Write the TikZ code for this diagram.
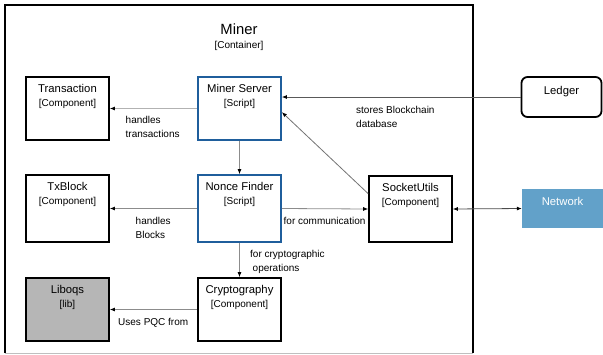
\documentclass[tikz,border=0pt]{standalone}
\usepackage{fontspec}
\setmainfont{Liberation Sans}
\usetikzlibrary{positioning,arrows.meta}
\definecolor{scriptblue}{HTML}{1F5E9C}
\definecolor{netblue}{HTML}{62A1C9}
\definecolor{libgray}{HTML}{B6B6B6}
\tikzset{
  comp/.style={draw=black, line width=1.8pt, minimum width=83pt, minimum height=63pt, inner sep=0pt},
  script/.style={comp, draw=scriptblue},
  boxtext/.style={align=center, inner sep=0pt, font=\fontsize{10}{14}\selectfont},
  note/.style={align=left, anchor=north west, inner sep=0pt, font=\fontsize{10}{14}\selectfont},
  conn/.style={draw=black!45, line width=0.8pt, -{Latex[black,length=5pt,width=4pt]}}
}
\newcommand{\ttl}[1]{{\fontsize{11.3}{14}\selectfont #1}}

\begin{document}
\begin{tikzpicture}[x=1pt,y=-1pt]
  \useasboundingbox (0,0) rectangle (603,354);
  % container
  \node[minimum width=468pt, minimum height=348pt, inner sep=0pt] (miner) at (239,179) {};
  \draw[line width=1.5pt] (miner.south west) -- (miner.north west) -- (miner.north east) -- (miner.south east);
  \draw[black!25, line width=1pt] (miner.south west) -- (miner.south east);
  \node[boxtext, below=18.5pt of miner.north] (minerT) {{\fontsize{14.8}{14}\selectfont Miner}\\{[Container]}};

  % boxes
  \node[comp]   (trans)   at ( 67.5,108.5) {};
  \node[script] (server)  at (239.5,108.5) {};
  \node[comp, minimum height=67pt]   (txblock) at ( 67.5,208.5) {};
  \node[script, minimum height=67pt] (nonce)   at (239.5,208.5) {};
  \node[comp, minimum height=66pt]   (socket)  at (410.5,209) {};
  \node[comp, fill=libgray] (liboqs)  at ( 67.5,309.5) {};
  \node[comp]   (crypto)  at (239.5,309.5) {};
  \node[draw, line width=1.8pt, rounded corners=6pt, minimum width=80pt, minimum height=40pt, inner sep=0pt] (ledger) at (561.5,97) {};
  \node[fill=netblue, minimum width=81pt, minimum height=39pt, inner sep=0pt] (network) at (562.5,208.5) {};

  % box texts
  \node[boxtext, below=8pt of trans.north]   (transT)   {\ttl{Transaction}\\{[Component]}};
  \node[boxtext, below=8pt of server.north]  (serverT)  {\ttl{Miner Server}\\{[Script]}};
  \node[boxtext, below=8pt of txblock.north] (txblockT) {\ttl{TxBlock}\\{[Component]}};
  \node[boxtext, below=8pt of nonce.north]   (nonceT)   {\ttl{Nonce Finder}\\{[Script]}};
  \node[boxtext, below=8pt of socket.north]  (socketT)  {\ttl{SocketUtils}\\{[Component]}};
  \node[boxtext, below=8pt of liboqs.north]  (liboqsT)  {\ttl{Liboqs}\\{[lib]}};
  \node[boxtext, below=8pt of crypto.north]  (cryptoT)  {\ttl{Cryptography}\\{[Component]}};
  \node[boxtext, below=10.5pt of ledger.north] (ledgerT) {\ttl{Ledger}};
  \node[boxtext, text=white, below=8pt of network.north] (networkT) {\ttl{Network}};

  % connectors
  \draw[conn, draw=black!30] (server.west) -- (trans.east);
  \draw[conn] (server.south) -- (nonce.north);
  \draw[conn, draw=black!65] (ledger.west) -- (server.east |- ledger.west);
  \draw[conn, draw=black!55] (socket.160) -- (server.-5);
  \draw[conn] (nonce.west) -- (txblock.east);
  \draw[conn] (nonce.east) -- (socket.west);
  \draw[conn, draw=black!70, {Latex[black,length=5pt,width=4pt]}-{Latex[black,length=5pt,width=4pt]}] (socket.east) -- (network.west);
  \draw[conn] (nonce.south) -- (crypto.north);
  \draw[conn] (crypto.west) -- (liboqs.east);

  % labels
  \node[note] (lblTrans)  at (125.5,116) {handles\\transactions};
  \node[note] (lblLedger) at (356,106.5) {stores Blockchain\\database};
  \node[note] (lblBlock)  at (135.5,217) {handles\\Blocks};
  \node[note] (lblComm)   at (283.5,217) {for communication};
  \node[note] (lblCrypto) at (250,250.5) {for cryptographic\\\hspace*{2.5pt}operations};
  \node[note] (lblPqc)    at (118,318) {Uses PQC from};
\end{tikzpicture}
\end{document}
